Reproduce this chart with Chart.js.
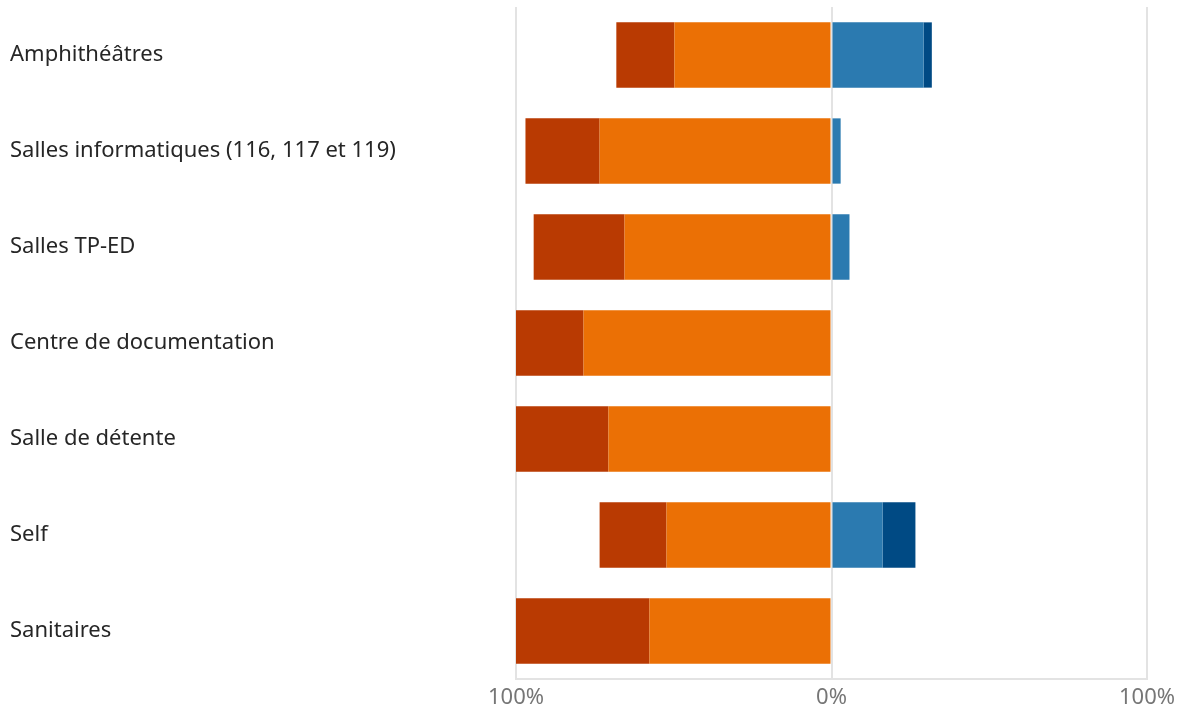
<!DOCTYPE html>
<html>
<head>
<meta charset="utf-8">
<script src="https://cdn.jsdelivr.net/npm/chart.js@4/dist/chart.umd.min.js"></script>
<style>
  html, body { margin: 0; padding: 0; background: #fff; }
  #wrap { width: 1188px; height: 713px; }
</style>
</head>
<body>
<div id="wrap"><canvas id="myChart"></canvas></div>
<script>
const categories = [
  "Amphithéâtres",
  "Salles informatiques (116, 117 et 119)",
  "Salles TP-ED",
  "Centre de documentation",
  "Salle de détente",
  "Self",
  "Sanitaires",
];

// percentages (left side values are shown as negative)
const plutotPasSatisfait = [49.8, 73.5, 65.6, 78.6, 70.7, 52.3, 57.7];
const pasSatisfait = [18.4, 23.5, 28.8, 21.4, 29.3, 21.2, 42.3];
const plutotSatisfait = [29.2, 2.9, 5.7, 0, 0, 16.2, 0];
const satisfait = [2.6, 0, 0, 0, 0, 10.4, 0];

const tickLabels = { "-100": "100%", "0": "0%", "100": "100%" };

const neg = (arr) => arr.map((v) => -v);

const data = {
  labels: categories,
  datasets: [
    { label: "Plutôt pas satisfait", data: neg(plutotPasSatisfait), backgroundColor: "#EB7005" },
    { label: "Pas satisfait", data: neg(pasSatisfait), backgroundColor: "#B93A02" },
    { label: "Plutôt satisfait", data: plutotSatisfait, backgroundColor: "#2B7AB0" },
    { label: "Satisfait", data: satisfait, backgroundColor: "#004A84" },
  ],
};

const config = {
  type: "bar",
  data,
  options: {
    indexAxis: "y",
    responsive: true,
    maintainAspectRatio: false,
    animation: false,
    datasets: {
      bar: { barPercentage: 0.68, categoryPercentage: 1, borderWidth: 0, borderSkipped: false },
    },
    layout: { padding: { left: 10, right: 41, top: 0, bottom: 0 } },
    plugins: { legend: { display: false }, tooltip: { enabled: false } },
    scales: {
      x: {
        stacked: true,
        min: -100,
        max: 100,
        afterFit: (scale) => { scale.height = 34; },
        ticks: {
          stepSize: 100,
          padding: 6,
          color: "#767676",
          font: { family: "'Noto Sans', 'Open Sans', sans-serif", size: 22 },
          callback: (v) => tickLabels[String(v)],
        },
        grid: { color: "#e3e3e3", lineWidth: 2, drawTicks: false },
        border: { display: true, color: "#e3e3e3", width: 2 },
      },
      y: {
        stacked: true,
        grid: { display: false },
        border: { display: false },
        afterFit: (scale) => {
          scale.width = 506;
          scale.paddingTop = 7;
          scale.paddingBottom = 0;
        },
        ticks: {
          crossAlign: "far",
          padding: 0,
          color: "#262626",
          font: { family: "'Noto Sans', 'Open Sans', sans-serif", size: 22 },
        },
      },
    },
  },
};

const myChart = new Chart(document.getElementById("myChart"), config);
</script>
</body>
</html>
